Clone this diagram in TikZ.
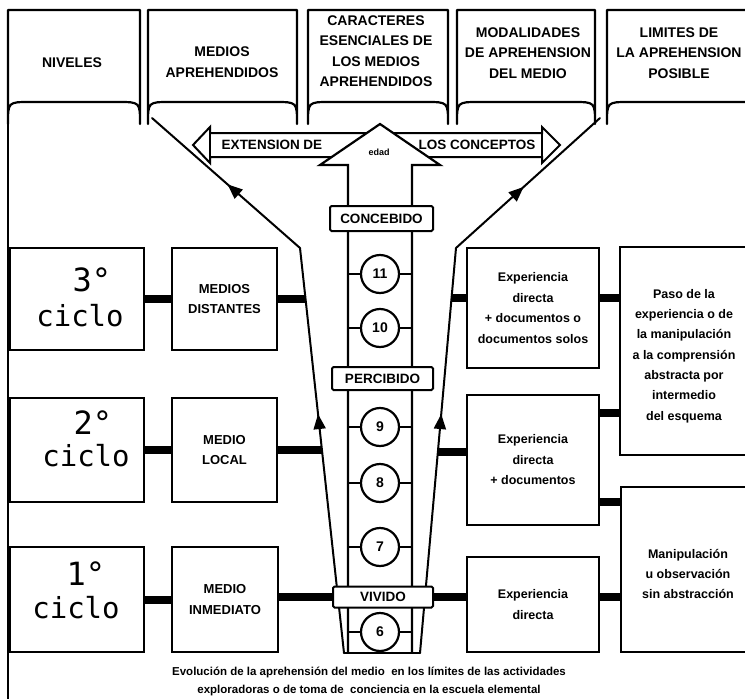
\documentclass[tikz,border=0pt]{standalone}
\usepackage{fontspec}
\setmainfont{Liberation Sans}
\newfontfamily\monof{DejaVu Sans Mono}
\usetikzlibrary{arrows.meta,decorations.markings}
\tikzset{
  tabline/.style={line width=2.2pt, line join=round},
  framest/.style={line width=2.8pt},
  diag/.style={line width=2pt, line cap=round},
  boxst/.style={draw, line width=2.4pt, fill=white, inner sep=0pt, align=center, font=\bfseries\fontsize{13}{20.5}\selectfont},
  rbox/.style={draw, line width=2.4pt, fill=white, inner sep=0pt, align=center, font=\bfseries\fontsize{12.5}{20.5}\selectfont},
  rtext/.style={inner sep=0pt, align=center, font=\bfseries\fontsize{12.5}{20.3}\selectfont},
  lbl/.style={draw, line width=2pt, fill=white, rounded corners=1.5pt, inner sep=0pt, font=\bfseries\fontsize{13.5}{14}\selectfont},
  num/.style={draw, circle, line width=2.2pt, fill=white, minimum size=38pt, inner sep=0pt, font=\bfseries\fontsize{14}{14}\selectfont},
  conn/.style={line width=8pt},
  stub/.style={line width=2pt},
  hdr/.style={align=center, inner sep=0pt, font=\bfseries\fontsize{14}{20.5}\selectfont},
  cycnum/.style={anchor=base, inner sep=0pt, font={\monof\fontsize{32}{34}\selectfont}},
  cycword/.style={anchor=base, inner sep=0pt, font={\monof\fontsize{29}{30}\selectfont}},
  arrmid/.style={postaction={decorate, decoration={markings, mark=at position #1 with {\arrow{Triangle[length=15pt,width=12pt]}}}}}
}
\begin{document}
\begin{tikzpicture}[x=1pt,y=-1pt]
\useasboundingbox (0,0) rectangle (745,699);
% header tabs
\foreach \a/\b in {8/140,148/297,308/448,457/595,607/790}{
  \draw[tabline] (\a,124) -- (\a,10) -- (\b,10) -- (\b,124) .. controls (\b,102) .. (\b-22,102) -- (\a+22,102) .. controls (\a,102) .. (\a,124) -- cycle;
}
\draw[framest] (8,10) -- (8,699);
\node[hdr] (h1) at (72,63) {NIVELES};
\node[hdr] (h2) at (222,62) {MEDIOS\\APREHENDIDOS};
\node[hdr] (h3) at (376,51) {CARACTERES\\ESENCIALES DE\\LOS MEDIOS\\APREHENDIDOS};
\node[hdr] (h4) at (528,53) {MODALIDADES\\DE APREHENSION\\DEL MEDIO};
\node[hdr] (h5) at (679,53) {LIMITES DE\\LA APREHENSION\\POSIBLE};
% diagonal lines
\coordinate (L1) at (152,118);
\coordinate (L2) at (300,248);
\coordinate (L3) at (344,653);
\coordinate (R1) at (600,118);
\coordinate (R2) at (456,248);
\coordinate (R3) at (420,653);
\draw[diag, arrmid=0.59] (L3) -- (L2);
\draw[diag, arrmid=0.49] (L2) -- (L1);
\draw[diag, arrmid=0.59] (R3) -- (R2);
\draw[diag, arrmid=0.47] (R2) -- (R1);
\draw[diag] (L3) -- (R3);
% horizontal double arrow
\draw[line width=2pt, fill=white, line join=miter] (193,145) -- (210,127) -- (210,133) -- (542,133) -- (542,127) -- (560,145) -- (542,163) -- (542,157) -- (210,157) -- (210,163) -- cycle;
\draw[line width=2pt] (210,133) -- (210,157) (542,133) -- (542,157);
\node[hdr, font=\bfseries\fontsize{13.5}{14}\selectfont] (ext1) at (272,145) {EXTENSION DE};
\node[hdr, font=\bfseries\fontsize{13.5}{14}\selectfont] (ext2) at (477,145) {LOS CONCEPTOS};
% big vertical arrow
\fill[white] (380,124) -- (440,165) -- (412,165) -- (412,200) -- (348,200) -- (348,165) -- (320,165) -- cycle;
\draw[line width=2.2pt, line join=miter] (348,653) -- (348,165) -- (320,165) -- (380,124) -- (440,165) -- (412,165) -- (412,653);
\node[inner sep=0pt, font=\bfseries\fontsize{9}{9}\selectfont] (edad) at (379,152) {edad};
\coordinate (sL) at (348,0);
\coordinate (sR) at (412,0);
% circles
\foreach \n/\y in {11/274,10/328,9/427,8/483,7/547,6/632}{
  \node[num] (n\n) at (380,\y) {\n};
  \draw[stub] (n\n.west) -- (n\n.west -| sL);
  \draw[stub] (n\n.east) -- (n\n.east -| sR);
}
% stage labels
\node[lbl, minimum width=103pt, minimum height=25pt] (conc) at (381.5,218.5) {CONCEBIDO};
\node[lbl, minimum width=101pt, minimum height=23pt] (perc) at (382.5,378.5) {PERCIBIDO};
\node[lbl, minimum width=100pt, minimum height=21pt] (viv) at (383,597) {VIVIDO};
% left boxes
\node[boxst, minimum width=134pt, minimum height=102pt] (cy3) at (77,299) {};
\node[boxst, minimum width=105pt, minimum height=102pt] (me3) at (224.5,299) {MEDIOS\\DISTANTES};
\node[boxst, minimum width=134pt, minimum height=104pt] (cy2) at (77,450) {};
\node[boxst, minimum width=105pt, minimum height=104pt] (me2) at (224.5,450) {MEDIO\\LOCAL};
\node[boxst, minimum width=134pt, minimum height=105pt] (cy1) at (77,599.5) {};
\node[boxst, minimum width=106pt, minimum height=105pt] (me1) at (225,599.5) {MEDIO\\INMEDIATO};
\node[cycnum] (t3) at (92,291) {3°};
\node[cycword] (w3) at (80,326) {ciclo};
\node[cycnum] (t2) at (93,434) {2°};
\node[cycword] (w2) at (86,466) {ciclo};
\node[cycnum] (t1) at (86,585) {1°};
\node[cycword] (w1) at (76,618) {ciclo};
% right boxes
\node[rbox, minimum width=132pt, minimum height=120pt] (ex1) at (533,308) {Experiencia\\directa\\+ documentos o\\documentos solos};
\node[rbox, minimum width=132pt, minimum height=130pt] (ex2) at (533,460) {Experiencia\\directa\\+ documentos};
\node[rbox, minimum width=132pt, minimum height=95pt] (ex3) at (533,604.5) {Experiencia\\directa};
\node[rbox, minimum width=150pt, minimum height=208pt] (pb) at (695,351) {};
\node[rbox, minimum width=149pt, minimum height=165pt] (mb) at (695.5,569.5) {};
\node[rtext] (pt) at (684,356) {Paso de la\\experiencia o de\\la manipulación\\a la comprensión\\abstracta por\\intermedio\\del esquema};
\node[rtext] (mt) at (688,574) {Manipulación\\u observación\\sin abstracción};
% connectors left
\coordinate (dL3) at (305.5,299);
\coordinate (dL2) at (321.9,450);
\draw[conn] (cy3.east) -- (me3.west);
\draw[conn] (me3.east) -- (dL3);
\draw[conn] (cy2.east) -- (me2.west);
\draw[conn] (me2.east) -- (dL2);
\draw[conn] (cy1.east) -- (me1.west);
\draw[conn] (viv.west -| me1.east) -- (viv.west);
% connectors right
\coordinate (dR1) at (450.7,298);
\coordinate (k1) at ([yshift=10pt]ex1.west);
\draw[conn] (dR1) -- (k1);
\coordinate (k2) at ([yshift=10pt]ex1.east);
\draw[conn] (k2) -- (k2 -| pb.west);
\coordinate (dR2) at (437.9,452);
\coordinate (k3) at ([yshift=8pt]ex2.west);
\draw[conn] (dR2) -- (k3);
\coordinate (k4) at ([yshift=47pt]ex2.east);
\draw[conn] (k4) -- (k4 -| pb.west);
\coordinate (k5) at ([yshift=-42pt]ex2.east);
\draw[conn] (k5) -- (k5 -| mb.west);
\draw[conn] (viv.east) -- (viv.east -| ex3.west);
\draw[conn] (viv.east -| ex3.east) -- (viv.east -| mb.west);
% caption
\node[inner sep=0pt, align=center, font=\bfseries\fontsize{11.5}{18}\selectfont] (cap) at (369,681) {Evolución de la aprehensión del medio\ \ en los límites de las actividades\\exploradoras o de toma de\ \ conciencia en la escuela elemental};
\end{tikzpicture}
\end{document}
